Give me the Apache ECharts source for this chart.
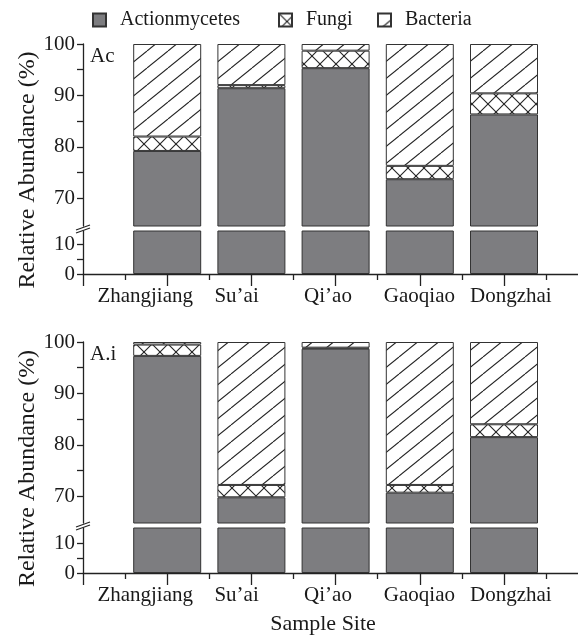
<!DOCTYPE html>
<html>
<head>
<meta charset="utf-8">
<script src="https://cdn.jsdelivr.net/npm/echarts@6/dist/echarts.min.js"></script>
<style>html,body{margin:0;padding:0;background:#fff}#c{width:578px;height:639px}</style>
</head>
<body>
<div id="c"></div>
<script>
// ---- data ----
const sites = ['Zhangjiang', 'Su\u2019ai', 'Qi\u2019ao', 'Gaoqiao', 'Dongzhai'];
const acActino = [79.2, 91.4, 95.3, 73.7, 86.3];
const acFungi = [2.8, 0.6, 3.4, 2.6, 4.1];
const acBacteria = [18.0, 8.0, 1.3, 23.7, 9.6];
const aiActino = [97.3, 69.8, 98.7, 70.7, 81.5];
const aiFungi = [2.2, 2.4, 0.2, 1.5, 2.5];
const aiBacteria = [0.5, 27.8, 1.1, 27.8, 16.0];
const upperTicks = [70, 75, 80, 85, 90, 95, 100];
const upperLabels = [70, 80, 90, 100];
const lowerTicks = [0, 5, 10];
const lowerLabels = [0, 10];
const majorX = [0, 1, 2, 3, 4, 5];
const minorX = [0.5, 1.5, 2.5, 3.5, 4.5, 5.5];
const seriesNames = ['Actionmycetes', 'Fungi', 'Bacteria'];

// ---- patterns ----
function hatchCanvas() {
  const w = 21, h = 17, c = document.createElement('canvas');
  c.width = w; c.height = h;
  const g = c.getContext('2d');
  g.fillStyle = '#fff'; g.fillRect(0, 0, w, h);
  g.strokeStyle = '#222'; g.lineWidth = 1.1;
  for (const dx of [-w, 0, w]) {
    g.beginPath(); g.moveTo(dx, h); g.lineTo(dx + w, 0); g.stroke();
  }
  return c;
}
function crossCanvas() {
  const w = 16, h = 16, c = document.createElement('canvas');
  c.width = w; c.height = h;
  const g = c.getContext('2d');
  g.fillStyle = '#fff'; g.fillRect(0, 0, w, h);
  g.strokeStyle = '#222'; g.lineWidth = 1.1;
  for (const dx of [-w, 0, w]) {
    g.beginPath(); g.moveTo(dx, h); g.lineTo(dx + w, 0); g.stroke();
    g.beginPath(); g.moveTo(dx, 0); g.lineTo(dx + w, h); g.stroke();
  }
  return c;
}
const GRAY = '#7d7d80';
const fills = [GRAY, { image: crossCanvas(), repeat: 'repeat' }, { image: hatchCanvas(), repeat: 'repeat' }];

const FONT = 'Liberation Serif';
const TXT = '#1a1a1a';
const XMAX = 5.879;
const AXIS_LEFT = 83, UNIT = 84.2;

const panels = [
  { label: 'Ac', act: acActino, fun: acFungi, bac: acBacteria,
    upTop: 44, upBottom: 226, upMin: 64.6, loTop: 231, loBottom: 274, loMax: 14.33 },
  { label: 'A.i', act: aiActino, fun: aiFungi, bac: aiBacteria,
    upTop: 342, upBottom: 523, upMin: 64.8, loTop: 528, loBottom: 573, loMax: 15 }
];

const grid = [], xAxis = [], yAxis = [], series = [], graphic = [];
const axisLineStyle = { color: '#222', width: 1.3 };
const barLeft = AXIS_LEFT + UNIT * 0.5, barWidthArea = UNIT * 5;
const yOffset = barLeft - AXIS_LEFT;

panels.forEach((p, pi) => {
  // upper bar grid
  const gu = grid.length;
  grid.push({ left: barLeft, width: barWidthArea, top: p.upTop, height: p.upBottom - p.upTop });
  const xu = xAxis.length;
  xAxis.push({ type: 'category', gridIndex: gu, data: sites, show: false });
  const yu = yAxis.length;
  yAxis.push({ type: 'value', gridIndex: gu, min: p.upMin, max: 100, offset: yOffset,
    axisLine: { show: true, lineStyle: axisLineStyle },
    axisTick: { show: true, length: 6, customValues: upperTicks, lineStyle: axisLineStyle },
    axisLabel: { customValues: upperLabels, fontFamily: FONT, fontSize: 21, color: TXT, margin: 8 },
    splitLine: { show: false } });
  const data = [p.act, p.fun, p.bac];
  data.forEach((arr, si) => {
    series.push({ type: 'bar', name: seriesNames[si], xAxisIndex: xu, yAxisIndex: yu,
      stack: 'up' + pi, barWidth: 68, clip: true,
      itemStyle: { color: fills[si], borderColor: '#333', borderWidth: 1 },
      data: arr });
  });

  // lower bar grid
  const gl = grid.length;
  grid.push({ left: barLeft, width: barWidthArea, top: p.loTop, height: p.loBottom - p.loTop });
  const xl = xAxis.length;
  xAxis.push({ type: 'category', gridIndex: gl, data: sites, show: false });
  const yl = yAxis.length;
  yAxis.push({ type: 'value', gridIndex: gl, min: 0, max: p.loMax, offset: yOffset,
    axisLine: { show: true, lineStyle: axisLineStyle },
    axisTick: { show: true, length: 6, customValues: lowerTicks, lineStyle: axisLineStyle },
    axisLabel: { customValues: lowerLabels, fontFamily: FONT, fontSize: 21, color: TXT, margin: 8 },
    splitLine: { show: false } });
  series.push({ type: 'bar', name: seriesNames[0], xAxisIndex: xl, yAxisIndex: yl,
    stack: 'lo' + pi, barWidth: 68, clip: true,
    itemStyle: { color: fills[0], borderColor: '#333', borderWidth: 1 },
    data: p.act });

  // x tick axis grid
  const gt = grid.length;
  grid.push({ left: AXIS_LEFT, width: 578 - AXIS_LEFT, top: p.loTop, height: p.loBottom - p.loTop });
  xAxis.push({ type: 'value', gridIndex: gt, min: 0, max: XMAX,
    axisLine: { show: true, onZero: false, lineStyle: axisLineStyle },
    axisTick: { show: true, length: 12, customValues: majorX, lineStyle: axisLineStyle },
    axisLabel: { show: false }, splitLine: { show: false } });
  xAxis.push({ type: 'value', gridIndex: gt, min: 0, max: XMAX, position: 'bottom',
    axisLine: { show: false },
    axisTick: { show: true, length: 6, customValues: minorX, lineStyle: axisLineStyle },
    axisLabel: { show: false }, splitLine: { show: false } });
  yAxis.push({ type: 'value', gridIndex: gt, show: false });

  // label grid (category names)
  const gc = grid.length;
  grid.push({ left: 99.5, width: 457, top: p.loTop, height: p.loBottom - p.loTop });
  xAxis.push({ type: 'category', gridIndex: gc, data: sites,
    axisLine: { show: false }, axisTick: { show: false },
    axisLabel: { fontFamily: FONT, fontSize: 21, color: TXT, margin: 12, interval: 0 } });
  yAxis.push({ type: 'value', gridIndex: gc, show: false });

  // decorations
  graphic.push({ type: 'text', x: 28, y: (p.upTop + p.loBottom) / 2 + 11, rotation: Math.PI / 2,
    style: { text: 'Relative Abundance (%)', font: '24px "Liberation Serif"', fill: TXT,
      align: 'center', verticalAlign: 'middle' } });
  graphic.push({ type: 'text', left: 90, top: p.upTop + 2,
    style: { text: p.label, font: '21px "Liberation Serif"', fill: TXT } });
  graphic.push({ type: 'line', shape: { x1: 76, y1: p.upBottom + 4, x2: 90, y2: p.upBottom - 1 },
    style: { stroke: '#222', lineWidth: 1.2 } });
  graphic.push({ type: 'line', shape: { x1: 76, y1: p.loTop + 2, x2: 90, y2: p.loTop - 3 },
    style: { stroke: '#222', lineWidth: 1.2 } });
});

graphic.push({ type: 'text', x: 323, y: 624,
  style: { text: 'Sample Site', font: '22px "Liberation Serif"', fill: TXT, align: 'center', verticalAlign: 'middle' } });

const legendBase = { top: 5, itemWidth: 13, itemHeight: 13, icon: 'rect',
  textStyle: { fontFamily: FONT, fontSize: 20, color: TXT, padding: [0, 0, 0, 9] } };
const legend = [
  Object.assign({}, legendBase, { left: 87, data: ['Actionmycetes'] }),
  Object.assign({}, legendBase, { left: 273, data: ['Fungi'] }),
  Object.assign({}, legendBase, { left: 372, data: ['Bacteria'] })
];

const chart = echarts.init(document.getElementById('c'), null, { renderer: 'canvas' });
chart.setOption({
  animation: false,
  legend: legend,
  grid: grid, xAxis: xAxis, yAxis: yAxis, series: series, graphic: graphic
});
</script>
</body>
</html>
